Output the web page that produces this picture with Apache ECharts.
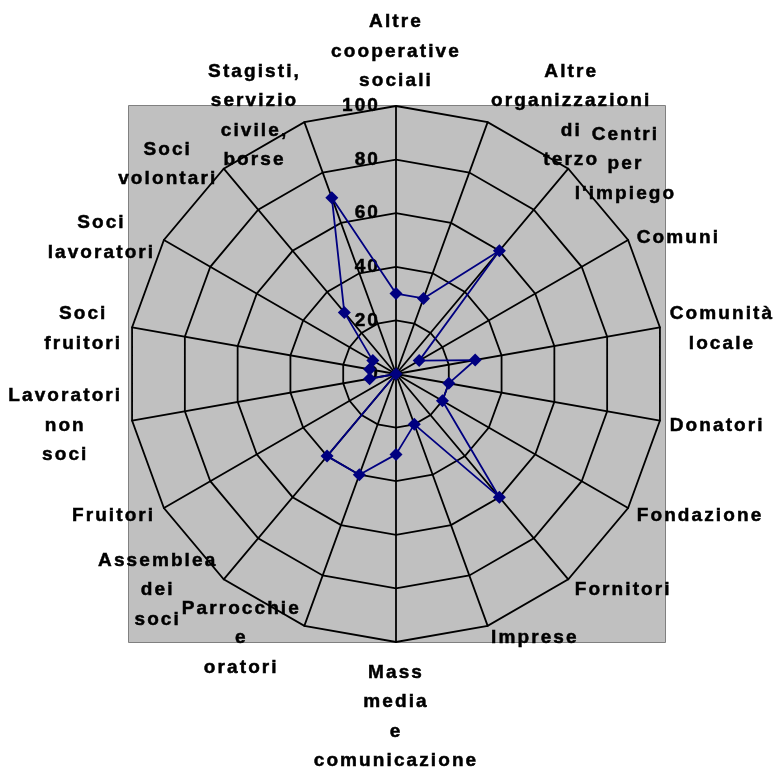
<!DOCTYPE html>
<html>
<head>
<meta charset="utf-8">
<script src="https://cdn.jsdelivr.net/npm/echarts@6/dist/echarts.min.js"></script>
<style>
html,body{margin:0;padding:0;background:#fff;}
#chart{width:777px;height:769px;}
</style>
</head>
<body>
<div id="chart"></div>
<script>
// widen glyph spacing like the reference rendering
(function(){
  var P = CanvasRenderingContext2D.prototype;
  var f = P.fillText, s = P.strokeText, m = P.measureText;
  P.fillText = function(){ this.letterSpacing = '2.1px'; return f.apply(this, arguments); };
  P.strokeText = function(){ this.letterSpacing = '2.1px'; return s.apply(this, arguments); };
  P.measureText = function(){ this.letterSpacing = '2.1px'; return m.apply(this, arguments); };
})();

const categories = [
  "Altre\ncooperative\nsociali",
  "Altre\norganizzazioni\ndi\nterzo",
  "Centri\nper\nl'impiego",
  "Comuni",
  "Comunità\nlocale",
  "Donatori",
  "Fondazione",
  "Fornitori",
  "Imprese",
  "Mass\nmedia\ne\ncomunicazione",
  "Parrocchie\ne\noratori",
  "Assemblea\ndei\nsoci",
  "Fruitori",
  "Lavoratori\nnon\nsoci",
  "Soci\nfruitori",
  "Soci\nlavoratori",
  "Soci\nvolontari",
  "Stagisti,\nservizio\ncivile,\nborse"
];
const values = [30, 30, 60, 10, 30, 20, 20, 60, 20, 30, 40, 40, 0, 10, 10, 10, 30, 70];
const axisMax = 100;
const axisStep = 20;

// ECharts lays radar indicators counter-clockwise; reorder so they run clockwise from the top
const order = [0].concat(categories.map((_, i) => i).slice(1).reverse());
const cwCategories = order.map(i => categories[i]);
const cwValues = order.map(i => values[i]);

const CX = 396, CY = 374, R = 268;
const FONT = 'Liberation Sans';
const FS = 19, LH = 29.5;
const txt = {color: '#000', fontFamily: FONT, fontWeight: 'bold', fontSize: FS, textBorderColor: '#000', textBorderWidth: 0.5};
const chart = echarts.init(document.getElementById('chart'), null, {renderer: 'canvas'});
chart.setOption({
  animation: false,
  backgroundColor: '#ffffff',
  graphic: [{
    type: 'rect', z: -10, silent: true,
    shape: {x: 128.5, y: 105.5, width: 537, height: 537},
    style: {fill: '#c0c0c0', stroke: '#808080', lineWidth: 1}
  }],
  radar: {
    center: [CX, CY],
    radius: R,
    startAngle: 90,
    shape: 'polygon',
    splitNumber: axisMax / axisStep,
    nameGap: 10,
    indicator: cwCategories.map(n => ({name: n, min: 0, max: axisMax})),
    axisName: Object.assign({}, txt, {
      lineHeight: LH,
      padding: [6, 0, 0, 0],
      formatter: v => v.split('\n').map(l => '{c|' + l + '}').join('\n'),
      rich: {c: Object.assign({}, txt, {align: 'center', lineHeight: LH})}
    }),
    axisLine: {lineStyle: {color: '#000', width: 1.8}},
    splitLine: {lineStyle: {color: '#000', width: 1.8}},
    splitArea: {show: false},
    axisTick: {show: false},
    axisLabel: {show: false}
  },
  polar: {center: [CX, CY], radius: R},
  angleAxis: {type: 'value', min: 0, max: 360, startAngle: 90, show: false},
  radiusAxis: {
    type: 'value', min: 0, max: axisMax, interval: axisStep,
    axisLine: {show: false}, axisTick: {show: false}, splitLine: {show: false},
    axisLabel: Object.assign({}, txt, {show: true, margin: 16})
  },
  series: [{
    type: 'radar',
    radarIndex: 0,
    symbol: 'diamond',
    symbolSize: 13,
    lineStyle: {color: '#000080', width: 1.8},
    itemStyle: {color: '#000080'},
    data: [{value: cwValues}]
  }]
});
</script>
</body>
</html>
